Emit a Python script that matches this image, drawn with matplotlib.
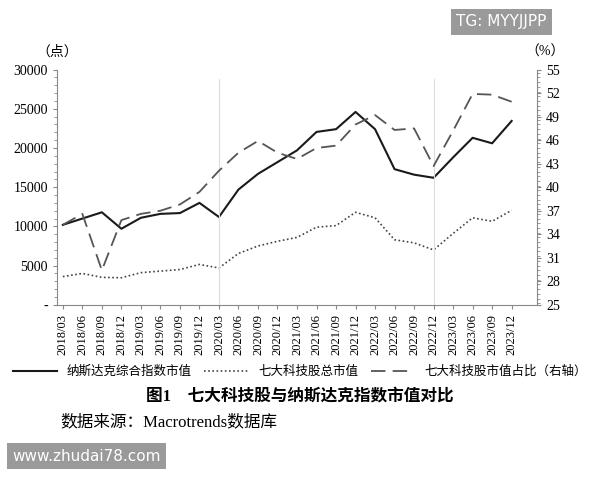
import matplotlib
matplotlib.use('Agg')
import matplotlib.pyplot as plt
from matplotlib.ticker import MultipleLocator

plt.rcParams['font.family'] = ['Liberation Serif', 'Noto Sans CJK SC']

quarters = ['2018/03', '2018/06', '2018/09', '2018/12', '2019/03', '2019/06', '2019/09', '2019/12',
            '2020/03', '2020/06', '2020/09', '2020/12', '2021/03', '2021/06', '2021/09', '2021/12',
            '2022/03', '2022/06', '2022/09', '2022/12', '2023/03', '2023/06', '2023/09', '2023/12']
nasdaq = [10200, 11000, 11800, 9700, 11100, 11600, 11700, 13000, 11200, 14700, 16700, 18200,
          19700, 22050, 22400, 24600, 22400, 17300, 16600, 16200, 18800, 21300, 20600, 23450]
seven_total = [3600, 4000, 3500, 3450, 4100, 4300, 4500, 5150, 4700, 6550, 7500, 8100,
               8600, 9900, 10100, 11800, 11100, 8300, 7900, 7000, 9100, 11100, 10650, 12050]
seven_share = [35.2, 36.6, 29.4, 35.8, 36.6, 37.0, 37.8, 39.4, 42.1, 44.4, 45.9, 44.4,
               43.6, 45.0, 45.3, 48.0, 49.2, 47.3, 47.5, 42.7, 47.2, 51.9, 51.8, 50.9]
left_ticks = [0, 5000, 10000, 15000, 20000, 25000, 30000]
left_labels = ['-', '5000', '10000', '15000', '20000', '25000', '30000']
right_ticks = [25, 28, 31, 34, 37, 40, 43, 46, 49, 52, 55]

fig = plt.figure(figsize=(6, 4.8), dpi=100)
ax = fig.add_axes([0.095, 0.365, 0.80, 0.49])
x = list(range(len(quarters)))

l1, = ax.plot(x, nasdaq, color='#1a1a1a', lw=1.5, label='纳斯达克综合指数市值')
l2, = ax.plot(x, seven_total, color='#444444', lw=1.2, ls=(0, (1, 1.5)), label='七大科技股总市值')
for q in ['2020/03', '2022/12']:
    ax.axvline(quarters.index(q), color='#dddddd', lw=0.8, ymax=0.96)
ax.set_ylim(0, 30000)
ax.set_yticks(left_ticks)
ax.set_yticklabels(left_labels, fontsize=10)
ax.yaxis.set_minor_locator(MultipleLocator(1000))
ax.set_xlim(-0.3, len(quarters) - 0.3 + 0.6)
ax.set_xticks(x)
ax.set_xticklabels(quarters, rotation=90, fontsize=9)

ax2 = ax.twinx()
l3, = ax2.plot(x, seven_share, color='#555555', lw=1.3, ls=(0, (8, 4)), label='七大科技股市值占比（右轴）')
ax2.set_ylim(25, 55)
ax2.set_yticks(right_ticks)
ax2.tick_params(labelsize=10)
ax2.yaxis.set_minor_locator(MultipleLocator(0.6))

for a in (ax, ax2):
    a.spines['top'].set_visible(False)
    a.tick_params(length=3, color='#888888')
    a.tick_params(which='minor', length=2, color='#888888')
ax.spines['right'].set_visible(False)
for s in ['left', 'bottom']:
    ax.spines[s].set_color('#888888')
ax2.spines['right'].set_color('#888888')
ax2.spines['left'].set_visible(False)
ax2.spines['bottom'].set_visible(False)

fig.text(0.06, 0.885, '（点）', fontsize=10)
fig.text(0.875, 0.885, '（%）', fontsize=10)

fig.legend(handles=[l1, l2, l3], loc='center', bbox_to_anchor=(0.5, 0.225), ncol=3,
           frameon=False, fontsize=9, handlelength=3.5, columnspacing=1.0)
fig.text(0.5, 0.165, '图1　七大科技股与纳斯达克指数市值对比', ha='center', fontsize=12, fontweight='bold')
fig.text(0.1, 0.112, '数据来源：Macrotrends数据库', fontsize=12)

fig.text(0.76, 0.945, 'TG: MYYJJPP', fontsize=11, color='white', family='DejaVu Sans',
         bbox=dict(facecolor='#9a9a9a', edgecolor='none', pad=4))
fig.text(0.02, 0.04, 'www.zhudai78.com', fontsize=11, color='white', family='DejaVu Sans',
         bbox=dict(facecolor='#9a9a9a', edgecolor='none', pad=4))

fig.savefig('out.png', dpi=100)
